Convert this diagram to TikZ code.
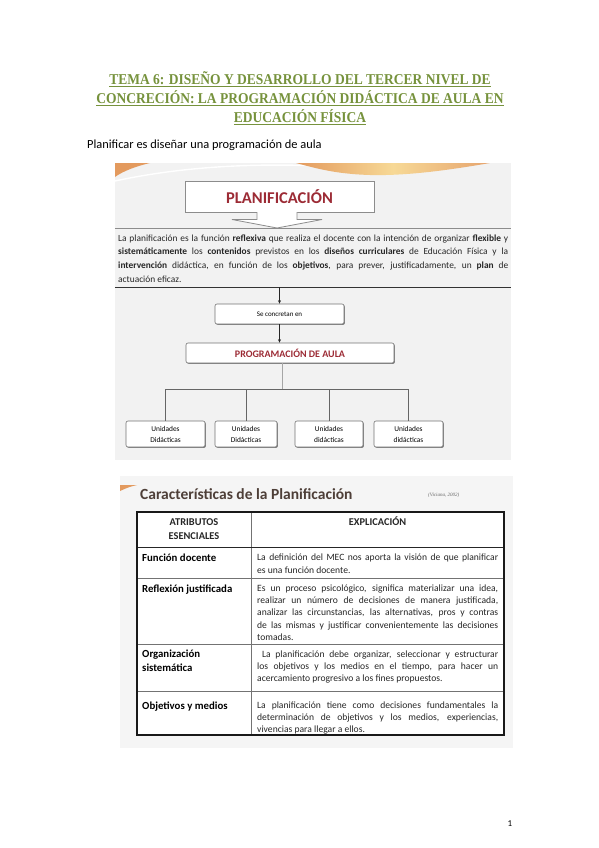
\documentclass[tikz,border=0pt]{standalone}
\usepackage{fontspec}
\setmainfont{Carlito}
\newfontfamily\titlefont[FakeStretch=0.9]{Liberation Serif}
\newfontfamily\citefont{Liberation Serif}
\usetikzlibrary{arrows.meta,shadows}
\definecolor{tgreen}{HTML}{76923C}
\definecolor{dred}{HTML}{9C2B35}
\definecolor{tbrown}{HTML}{4E3F38}
\definecolor{swor}{HTML}{E39A5E}
\definecolor{swye}{HTML}{F7D996}
\tikzset{
  ttl/.style={anchor=base, inner sep=0pt, text=tgreen, font=\titlefont\bfseries\fontsize{15}{17}\selectfont},
  boxa/.style={draw=black!55, fill=white, rounded corners=2pt, line width=0.6pt,
     drop shadow={shadow xshift=0.9pt, shadow yshift=-0.9pt, fill=black!70, opacity=0.7},
     inner sep=1pt, align=center},
  conn/.style={line width=0.5pt, draw=black!85},
  arr/.style={conn, -{Stealth[length=3.5pt,width=3pt]}},
  coltext/.style={anchor=north west, inner sep=0pt, text width=241pt, align=justify,
     font=\fontsize{9.6}{12.3}\selectfont, text=black!85},
  rowlab/.style={anchor=base west, inner sep=0pt, align=left, font=\bfseries\fontsize{10.8}{14}\selectfont},
  hdr/.style={anchor=base, inner sep=0pt, align=center, font=\bfseries\fontsize{10.4}{14}\selectfont, text=black!85},
}
\begin{document}
\begin{tikzpicture}[x=1pt,y=-1pt]
\useasboundingbox (0,0) rectangle (599,848);
\fill[white] (0,0) rectangle (599,848);

% ---- title
\node[ttl] (t1) at (300,85) {\underline{TEMA 6: DISEÑO Y DESARROLLO DEL TERCER NIVEL DE}};
\node[ttl] (t2) at (300,104) {\underline{CONCRECIÓN: LA PROGRAMACIÓN DIDÁCTICA DE AULA EN}};
\node[ttl] (t3) at (300,123) {\underline{EDUCACIÓN FÍSICA}};

\node[anchor=base west, inner sep=0pt, font=\fontsize{12.4}{14}\selectfont] (sub) at (87,149)
  {Planificar es diseñar una programación de aula};

% ---- first image
\fill[black!5] (115,163) rectangle (511,460);
\fill[swor] (115,163) -- (150,163) .. controls (137,166) and (123,171) .. (115,177) -- cycle;
\draw[white, line width=1.4pt] (115,181) .. controls (180,167) and (250,163) .. (320,166);
\shade[left color=swor, right color=swor!90, middle color=swye]
  (296,163) -- (490,163) .. controls (455,169) and (410,176) .. (370,175)
  .. controls (335,174) and (315,168) .. (296,163) -- cycle;

\node[draw=black!45, fill=white, line width=0.9pt, minimum width=189pt, minimum height=31pt,
      inner sep=0pt, text=dred, font=\bfseries\fontsize{16.5}{18}\selectfont] (plan) at (279.5,196.5) {PLANIFICACIÓN};
\draw[draw=black!45, fill=white, line width=0.8pt]
  (257,212) -- (257,219.5) -- (232,219.5) -- (277,228) -- (322,219.5) -- (297,219.5) -- (297,212);

\node[minimum width=396pt, minimum height=59pt, inner sep=0pt] (defbox) at (313,257.5) {};
\draw[black!45, line width=0.6pt] (defbox.north west) -- (defbox.north east);
\draw[black!80, line width=0.9pt] (defbox.south west) -- (defbox.south east);
\node[anchor=north west, inner sep=0pt, text width=390pt, align=justify,
      font=\fontsize{9.4}{13.6}\selectfont, text=black!85] (def) at (118,234.5)
 {La planificación es la función \textbf{reflexiva} que realiza el docente con la intención de organizar \textbf{flexible} y\linebreak
  \textbf{sistemáticamente} los \textbf{contenidos} previstos en los \textbf{diseños} \textbf{curriculares} de Educación Física y la\linebreak
  \textbf{intervención} didáctica, en función de los \textbf{objetivos}, para prever, justificadamente, un \textbf{plan} de\linebreak
  actuación eficaz.};

\node[boxa, minimum width=129pt, minimum height=20pt, font=\fontsize{7}{9}\selectfont] (sc) at (279.5,314) {Se concretan en};
\node[boxa, minimum width=208pt, minimum height=20pt, text=dred, font=\bfseries\fontsize{10}{12}\selectfont] (pa) at (290,353) {PROGRAMACIÓN DE AULA};

\draw[arr] (sc.north |- defbox.south) -- (sc.north);
\draw[arr] (sc.south) -- (sc.south |- pa.north);

\node[boxa, minimum width=79pt, minimum height=26pt, font=\fontsize{7.4}{11}\selectfont] (u1) at (165.5,434) {Unidades\\Didácticas};
\node[boxa, minimum width=62pt, minimum height=26pt, font=\fontsize{7.4}{11}\selectfont] (u2) at (246,434) {Unidades\\Didácticas};
\node[boxa, minimum width=68pt, minimum height=26pt, font=\fontsize{7.4}{11}\selectfont] (u3) at (329,434) {Unidades\\didácticas};
\node[boxa, minimum width=69pt, minimum height=26pt, font=\fontsize{7.4}{11}\selectfont] (u4) at (408.5,434) {Unidades\\didácticas};

\coordinate (bar) at (282,389);
\draw[black!35, line width=0.6pt] (pa.south -| bar) -- (bar);
\draw[black!60, line width=0.7pt] (u1.north |- bar) -- (u4.north |- bar);
\foreach \u in {u1,u2,u3,u4} \draw[black!60, line width=0.7pt] (\u.north |- bar) -- (\u.north);

% ---- second image
\fill[black!4] (120,476) rectangle (513,748);
\fill[swor] (120,485) -- (137,485) .. controls (129,487) .. (120,491) -- cycle;
\node[anchor=base west, inner sep=0pt, text=tbrown, font=\bfseries\fontsize{15.5}{17}\selectfont] (ct) at (140,499)
  {Características de la Planificación};
\node[anchor=base west, inner sep=0pt, text=black!60, font=\citefont\itshape\fontsize{5}{6}\selectfont] (cite) at (428,496)
  {(Viciana, 2002)};

\fill[white] (137,512) rectangle (504,735);
\draw[black!55, line width=0.6pt] (251,512) -- (251,735);
\draw[black!85, line width=0.9pt] (137,547) -- (504,547);
\foreach \yy in {578,644,691} \draw[black!55, line width=0.6pt] (137,\yy) -- (504,\yy);
\draw[black!90, line width=1.3pt] (137,512) rectangle (504,735);

\node[hdr] (h1) at (194,539) {ATRIBUTOS\\ESENCIALES};
\node[hdr] (h2) at (377.5,525) {EXPLICACIÓN};

\node[rowlab] (l1) at (142,561) {Función docente};
\node[rowlab] (l2) at (142,592) {Reflexión justificada};
\node[rowlab] (l3) at (142,671) {Organización\\sistemática};
\node[rowlab] (l4) at (142,709) {Objetivos y medios};

\node[coltext] (e1) at (257,554)
 {La definición del MEC nos aporta la visión de que planificar\linebreak es una función docente.};
\node[coltext] (e2) at (257,584.5)
 {Es un proceso psicológico, significa materializar una idea,\linebreak realizar un número de decisiones de manera justificada,\linebreak analizar las circunstancias, las alternativas, pros y contras\linebreak de las mismas y justificar convenientemente las decisiones\linebreak tomadas.};
\node[coltext] (e3) at (257,650.5)
 {\ La planificación debe organizar, seleccionar y estructurar\linebreak los objetivos y los medios en el tiempo, para hacer un\linebreak acercamiento progresivo a los fines propuestos.};
\node[coltext] (e4) at (257,701.5)
 {La planificación tiene como decisiones fundamentales la\linebreak determinación de objetivos y los medios, experiencias,\linebreak vivencias para llegar a ellos.};

\node[anchor=base, inner sep=0pt, font=\fontsize{9}{11}\selectfont] (pg) at (510,826) {1};
\end{tikzpicture}
\end{document}
